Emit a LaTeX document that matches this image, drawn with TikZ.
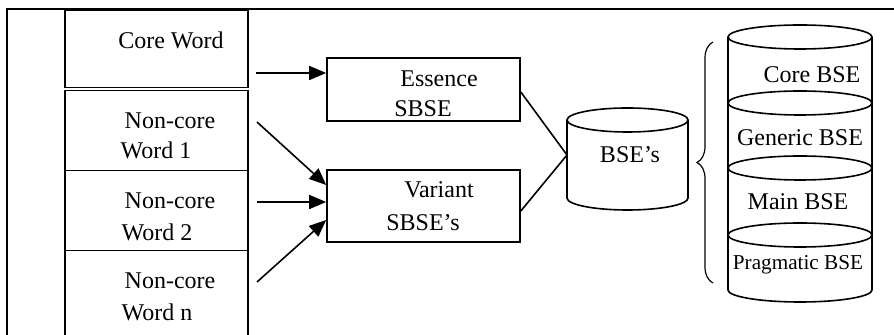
\documentclass[tikz,border=0pt]{standalone}
\usepackage{fontspec}
\setmainfont{Liberation Serif}
\usetikzlibrary{arrows.meta,calc,decorations.pathreplacing}
\begin{document}
\begin{tikzpicture}[x=0.5pt,y=-0.5pt,
  wbox/.style={draw,line width=0.8pt,inner sep=0pt,minimum width=91.5pt},
  pbox/.style={draw,line width=0.8pt,inner sep=0pt,minimum width=96.5pt},
  txt/.style={inner sep=0pt,font=\fontsize{12}{14}\selectfont},
  conn/.style={line width=0.8pt},
  arr/.style={conn,-{Triangle[length=8.5pt,width=7pt]}},
  db/.style={line width=0.8pt}]
\useasboundingbox (0,0) rectangle (894,335);
% frame
\draw[line width=1.3pt] (7,335) -- (7,9) -- (894,9);
% word boxes
\node[wbox,minimum height=38.5pt] (core) at (156.5,49) {};
\node[wbox,minimum height=40pt] (nc1) at (156.5,130.5) {};
\node[wbox,minimum height=40pt] (nc2) at (156.5,210.5) {};
\node[wbox,minimum height=50pt] (ncn) at (156.5,300.5) {};
\node[txt] (t0) at (171,40) {Core Word};
\node[txt] (t1a) at (170,121) {Non-core};
\node[txt] (t1b) at (156,150) {Word 1};
\node[txt] (t2a) at (170,201) {Non-core};
\node[txt] (t2b) at (157,232) {Word 2};
\node[txt] (t3a) at (170,281) {Non-core};
\node[txt] (t3b) at (157,312) {Word n};
% process boxes
\node[pbox,minimum height=31.5pt] (ess) at (423.5,89.5) {};
\node[pbox,minimum height=36pt] (var) at (423.5,206) {};
\node[txt] (te1) at (439,79) {Essence};
\node[txt] (te2) at (423,109) {SBSE};
\node[txt] (tv1) at (439,190) {Variant};
\node[txt] (tv2) at (423,223) {SBSE’s};
% arrow start points
\coordinate (s0) at (256,73);
\coordinate (s1) at (257,122);
\coordinate (s2) at (257,202);
\coordinate (s3) at (257,282);
\draw[arr] (s0) -- (s0 -| ess.west);
\draw[arr] (s1) -- ($(var.west)+(0,-21)$);
\draw[arr] (s2) -- (s2 -| var.west);
\draw[arr] (s3) -- ($(var.west)+(0,14)$);
% BSE's cylinder
\draw[db] (567,120) -- (567,198) arc[start angle=180,end angle=360,x radius=30.25pt,y radius=6pt] -- (688,120);
\draw[db] (627.5,120) ellipse[x radius=30.25pt,y radius=6pt];
\node[txt] (bse) at (630,155) {BSE’s};
\coordinate (bsel) at (567,155);
\draw[conn] ($(ess.east)+(0,2.5)$) -- (bsel);
\draw[conn] ($(var.east)+(0,5)$) -- (bsel);
% brace
\draw[line width=0.6pt,decorate,decoration={brace,amplitude=8pt}] (713,283) -- (713,42);
% stacked cylinders
\draw[db] (728,37) -- (728,290) arc[start angle=180,end angle=360,x radius=36pt,y radius=6pt] -- (872,37);
\foreach \yy in {37,103,168,235}
  \draw[db] (800,\yy) ellipse[x radius=36pt,y radius=6pt];
\node[txt] (c1) at (812,75) {Core BSE};
\node[txt] (c2) at (800,138) {Generic BSE};
\node[txt] (c3) at (798,202) {Main BSE};
\node[inner sep=0pt,font=\fontsize{10.6}{12}\selectfont] (c4) at (798,265) {Pragmatic BSE};
\end{tikzpicture}
\end{document}
